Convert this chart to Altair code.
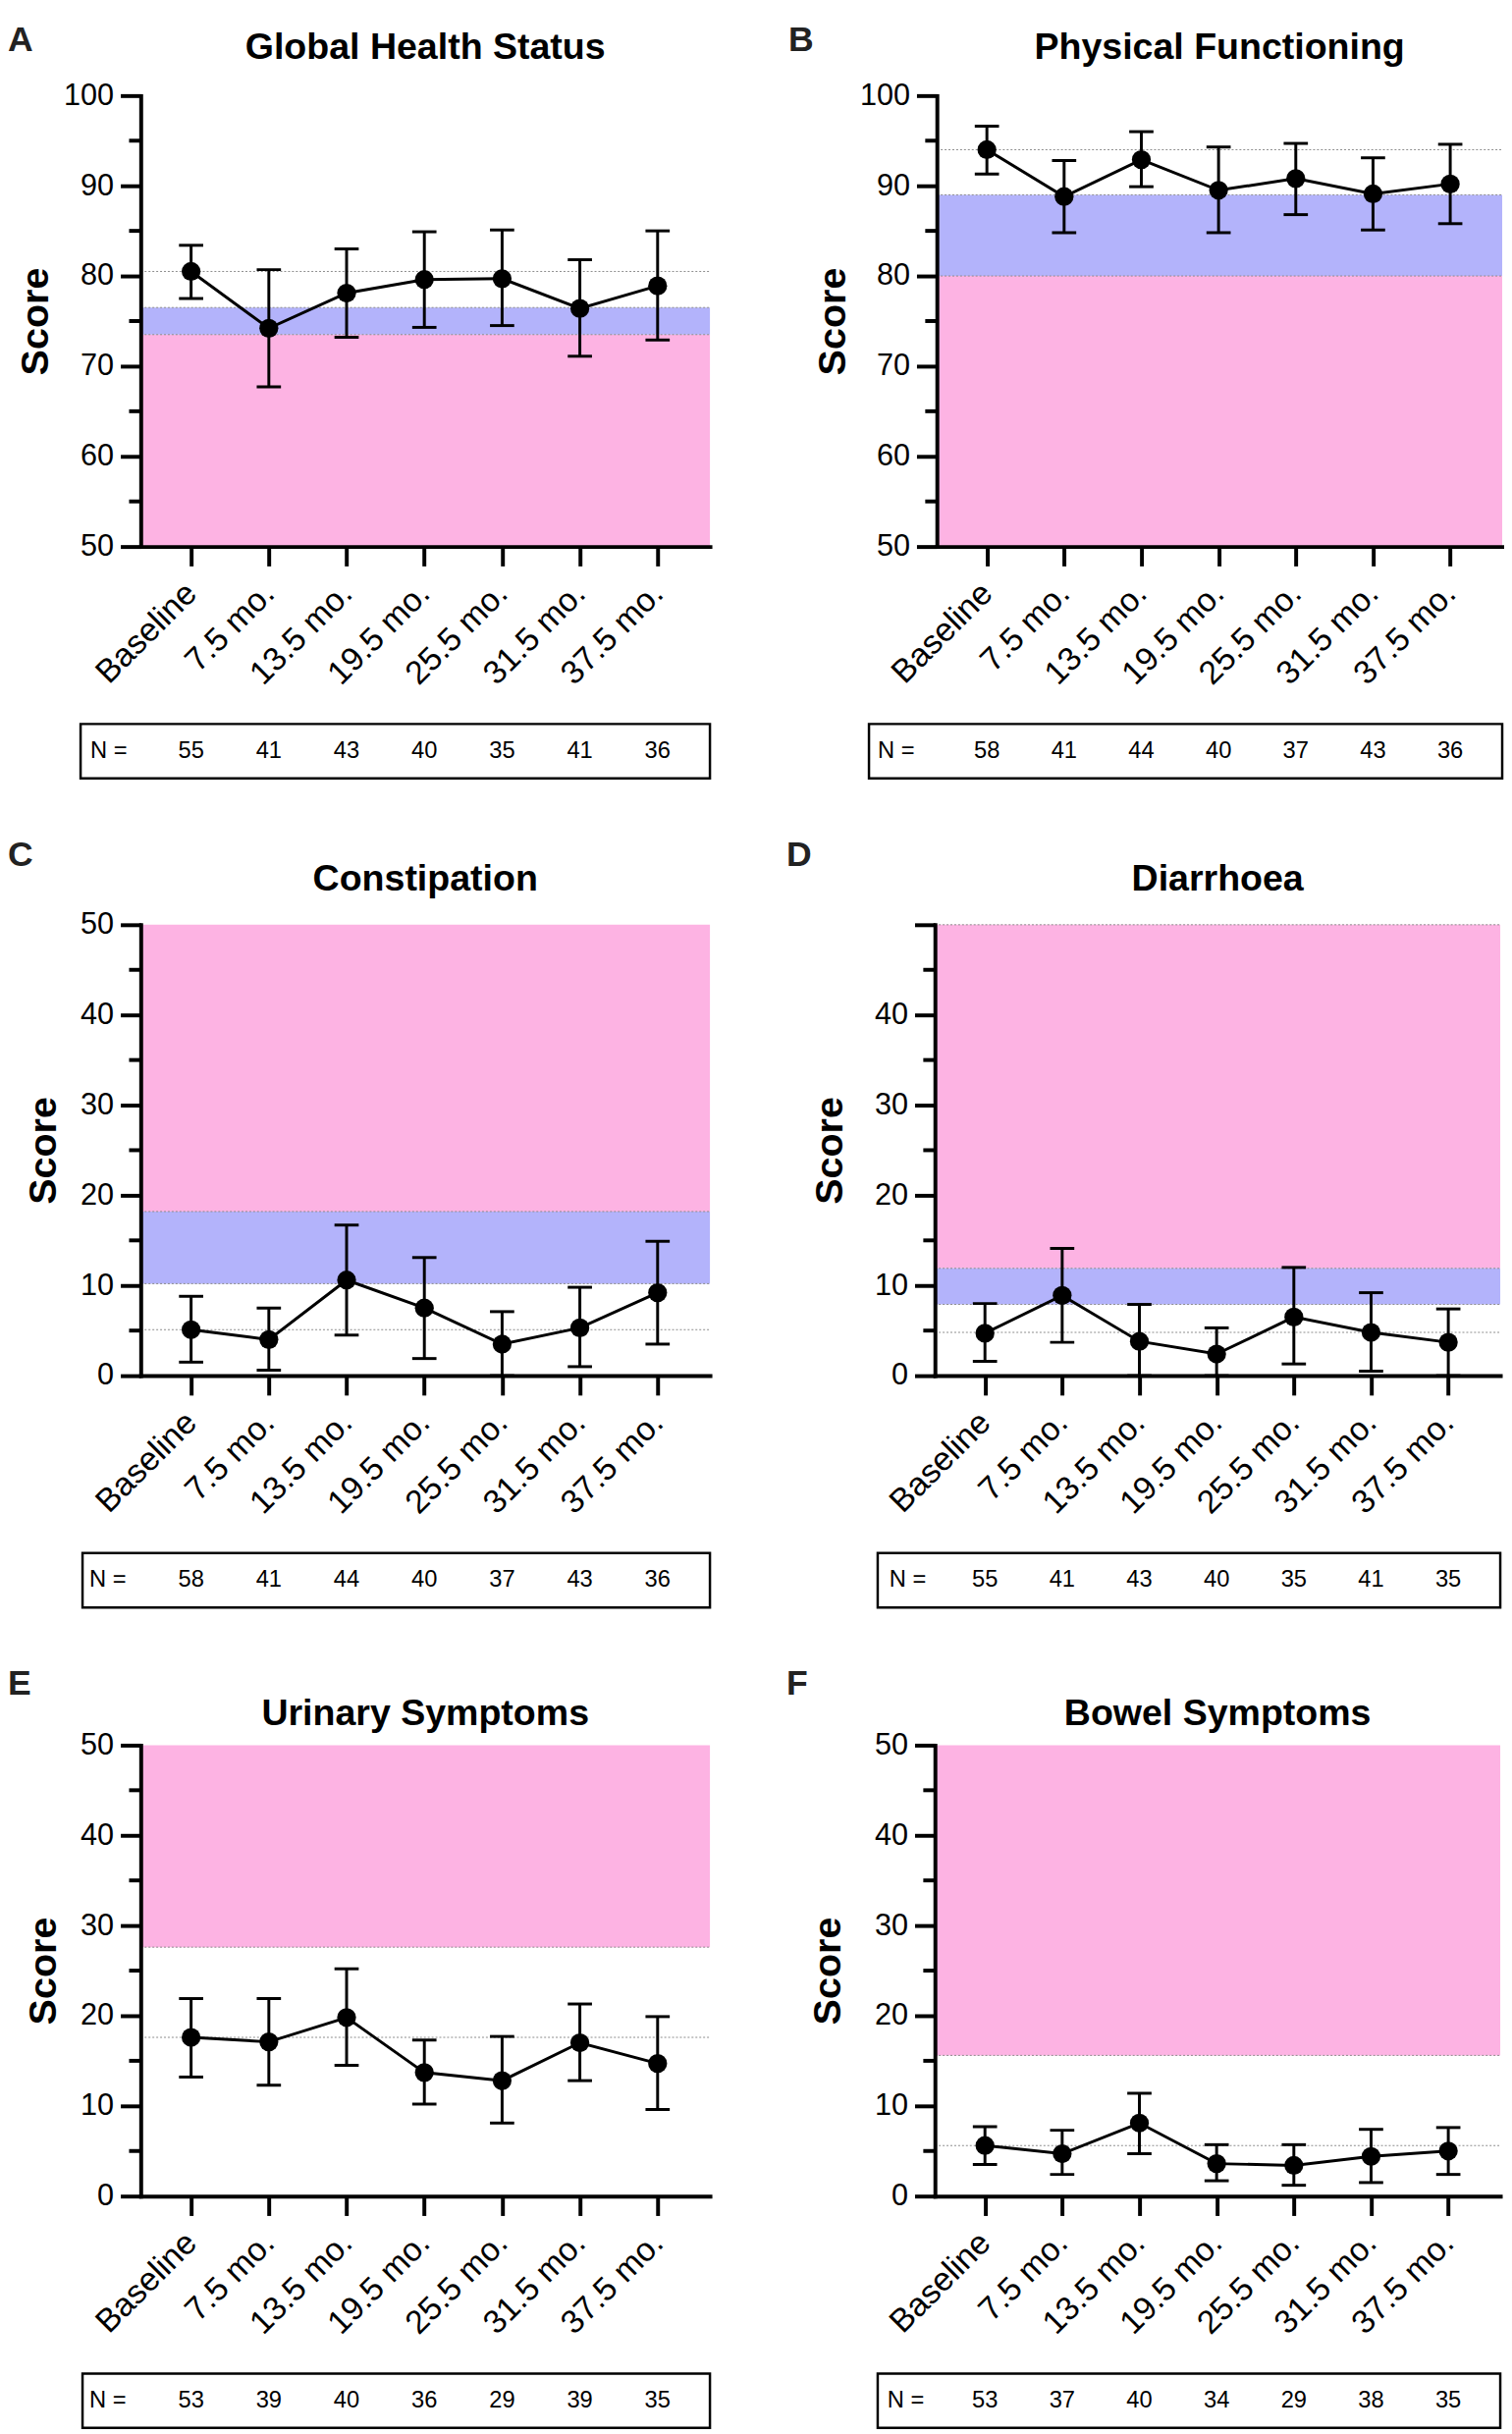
import altair as alt
import pandas as pd

FONT = "Liberation Sans"
PINK = "#FDB3E3"
BLUE = "#B3B3FB"
DOT = "#8a8a8a"

LABELS = ["Baseline", "7.5 mo.", "13.5 mo.", "19.5 mo.", "25.5 mo.", "31.5 mo.", "37.5 mo."]

# A - Global Health Status
A_mean = [80.5, 74.2, 78.1, 79.6, 79.7, 76.4, 78.9]
A_hi = [83.4, 80.7, 83.0, 84.9, 85.1, 81.8, 85.0]
A_lo = [77.5, 67.7, 73.2, 74.3, 74.5, 71.1, 72.9]
A_n = [55, 41, 43, 40, 35, 41, 36]
A_pink = [50, 73.5]
A_blue = [73.5, 76.5]
A_ref = 80.5

# B - Physical Functioning
B_mean = [94.0, 88.8, 92.9, 89.5, 90.8, 89.1, 90.2]
B_hi = [96.6, 92.8, 96.0, 94.3, 94.7, 93.1, 94.6]
B_lo = [91.3, 84.8, 89.9, 84.8, 86.8, 85.1, 85.8]
B_n = [58, 41, 44, 40, 37, 43, 36]
B_pink = [50, 80]
B_blue = [80, 89]
B_ref = 94.0

# C - Constipation
C_mean = [5.1, 4.0, 10.6, 7.5, 3.5, 5.3, 9.2]
C_hi = [8.8, 7.5, 16.7, 13.1, 7.1, 9.8, 14.9]
C_lo = [1.5, 0.6, 4.5, 1.9, 0.0, 1.0, 3.5]
C_n = [58, 41, 44, 40, 37, 43, 36]
C_pink = [18.2, 50]
C_blue = [10.2, 18.2]
C_ref = 5.1

# D - Diarrhoea
D_mean = [4.7, 8.9, 3.8, 2.4, 6.5, 4.8, 3.7]
D_hi = [8.0, 14.1, 7.9, 5.3, 12.0, 9.2, 7.4]
D_lo = [1.6, 3.7, 0.0, 0.0, 1.3, 0.5, 0.0]
D_n = [55, 41, 43, 40, 35, 41, 35]
D_pink = [11.9, 50]
D_blue = [7.9, 11.9]
D_ref = 4.8

# E - Urinary Symptoms
E_mean = [17.6, 17.1, 19.8, 13.7, 12.8, 17.0, 14.7]
E_hi = [21.9, 21.9, 25.2, 17.3, 17.7, 21.3, 19.9]
E_lo = [13.2, 12.3, 14.5, 10.2, 8.1, 12.8, 9.6]
E_n = [53, 39, 40, 36, 29, 39, 35]
E_pink = [27.6, 50]
E_ref = 17.6

# F - Bowel Symptoms
F_mean = [5.6, 4.7, 8.1, 3.6, 3.4, 4.4, 5.0]
F_hi = [7.7, 7.3, 11.4, 5.7, 5.7, 7.4, 7.6]
F_lo = [3.5, 2.4, 4.7, 1.7, 1.2, 1.5, 2.4]
F_n = [53, 37, 40, 34, 29, 38, 35]
F_pink = [15.6, 50]
F_ref = 5.6

XDOM = [-0.648, 6.673]
H = 465
LABEL_EXPR = "[" + ",".join("'%s'" % l for l in LABELS) + "][datum.value]"


def make_panel(letter, title, mean, lo, hi, n, ydom, bands, edges, width,
               letter_dx, letter_dy, title_dy, tpad, box_dx, nlab_dx, hide_top=False):
    df = pd.DataFrame({"idx": list(range(7)), "mean": mean, "lo": lo, "hi": hi, "n": n})
    one = pd.DataFrame({"k": [0]})
    xs = alt.Scale(domain=XDOM, nice=False, zero=False)
    ys = alt.Scale(domain=ydom, nice=False, zero=False)
    yvals = list(range(ydom[0], ydom[1] + 1, 10))
    minor = [v + 5 for v in yvals[:-1]]

    yaxis_kw = dict(values=yvals, tickSize=21, tickWidth=4, tickColor="black",
                    labelFontSize=31, labelPadding=7, labelColor="black", labelFont=FONT,
                    domainColor="black", domainWidth=4, domainCap="square",
                    title="Score", titleFontSize=40, titleFontWeight="bold", titleFont=FONT,
                    titleColor="black", titlePadding=tpad, grid=False, zindex=1,
                    labelFlush=False, labelOverlap=False)
    if hide_top:
        yaxis_kw["labelExpr"] = "datum.value == %d ? '' : datum.label" % ydom[1]
    yaxis = alt.Axis(**yaxis_kw)
    xaxis = alt.Axis(values=list(range(7)), labelExpr=LABEL_EXPR, labelAngle=-45,
                     labelAlign="right", labelBaseline="middle", labelFontSize=34,
                     labelPadding=23, labelColor="black", labelFont=FONT,
                     tickSize=20, tickWidth=4, tickColor="black",
                     domainColor="black", domainWidth=4, domainCap="square",
                     title=None, grid=False, zindex=1, labelFlush=False, labelOverlap=False)

    def X(f):
        return alt.X(f, scale=xs, axis=xaxis, title=None)

    def Y(f):
        return alt.Y(f, scale=ys, axis=yaxis, title="Score")

    bdf = pd.DataFrame({"lo": [b[0] for b in bands], "hi": [b[1] for b in bands],
                        "c": [b[2] for b in bands]})
    band_layer = alt.Chart(bdf).mark_rect().encode(
        y=Y("lo:Q"), y2="hi:Q",
        x=alt.value(0), x2=alt.value(width),
        color=alt.Color("c:N", scale=None))

    edf = pd.DataFrame({"v": edges})
    edge_layer = alt.Chart(edf).mark_rule(color=DOT, strokeWidth=1, strokeDash=[2, 2]).encode(
        y=Y("v:Q"), x=alt.value(0), x2=alt.value(width))

    base = alt.Chart(df)
    err = base.mark_rule(color="black", strokeWidth=3).encode(
        x=X("idx:Q"), y=Y("lo:Q"), y2="hi:Q")
    cap_lo = base.mark_tick(orient="horizontal", size=25, thickness=3, color="black", opacity=1).encode(
        x=X("idx:Q"), y=Y("lo:Q"))
    cap_hi = base.mark_tick(orient="horizontal", size=25, thickness=3, color="black", opacity=1).encode(
        x=X("idx:Q"), y=Y("hi:Q"))
    line = base.mark_line(color="black", strokeWidth=3).encode(
        x=X("idx:Q"), y=Y("mean:Q"))
    pts = base.mark_circle(size=380, color="black", opacity=1).encode(
        x=X("idx:Q"), y=Y("mean:Q"))

    mdf = pd.DataFrame({"v": minor})
    minor_layer = alt.Chart(mdf).mark_rule(color="black", strokeWidth=4).encode(
        y=Y("v:Q"), x=alt.value(-12), x2=alt.value(0))

    box = alt.Chart(one).mark_rect(fillOpacity=0, stroke="black", strokeWidth=2.5).encode(
        x=alt.value(box_dx), x2=alt.value(width), y=alt.value(648), y2=alt.value(704))
    ntext = base.mark_text(fontSize=24, font=FONT, align="center", baseline="middle", color="black").encode(
        x=X("idx:Q"), y=alt.value(676), text="n:Q")
    nlab = alt.Chart(one).mark_text(fontSize=24, font=FONT, align="left", baseline="middle", color="black").encode(
        x=alt.value(nlab_dx), y=alt.value(676), text=alt.value("N ="))
    ttl = alt.Chart(one).mark_text(fontSize=38, font=FONT, fontWeight="bold", align="center",
                                   baseline="alphabetic", color="black").encode(
        x=alt.value(width / 2), y=alt.value(title_dy), text=alt.value(title))
    let = alt.Chart(one).mark_text(fontSize=36, font=FONT, fontWeight="bold", align="left",
                                   baseline="alphabetic", color="#222222").encode(
        x=alt.value(letter_dx), y=alt.value(letter_dy), text=alt.value(letter))

    return alt.layer(band_layer, edge_layer, err, cap_lo, cap_hi, line, pts, minor_layer,
                     box, ntext, nlab, ttl, let).properties(width=width, height=H)


pA = make_panel("A", "Global Health Status", A_mean, A_lo, A_hi, A_n, [50, 100],
                [(A_pink[0], A_pink[1], PINK), (A_blue[0], A_blue[1], BLUE)],
                [A_blue[0], A_blue[1], A_ref], 587, -137, -46, -38, 8, -62, -52)
pB = make_panel("B", "Physical Functioning", B_mean, B_lo, B_hi, B_n, [50, 100],
                [(B_pink[0], B_pink[1], PINK), (B_blue[0], B_blue[1], BLUE)],
                [B_blue[0], B_blue[1], B_ref], 583, -153, -46, -38, 7, -70, -61)
pC = make_panel("C", "Constipation", C_mean, C_lo, C_hi, C_n, [0, 50],
                [(C_pink[0], C_pink[1], PINK), (C_blue[0], C_blue[1], BLUE)],
                [C_blue[0], C_blue[1], C_ref], 587, -137, -61, -35, 17, -60, -53)
pD = make_panel("D", "Diarrhoea", D_mean, D_lo, D_hi, D_n, [0, 50],
                [(D_pink[0], D_pink[1], PINK), (D_blue[0], D_blue[1], BLUE)],
                [D_blue[0], D_blue[1], D_pink[1], D_ref], 583, -153, -61, -35, 25, -59, -47,
                hide_top=True)
pE = make_panel("E", "Urinary Symptoms", E_mean, E_lo, E_hi, E_n, [0, 50],
                [(E_pink[0], E_pink[1], PINK)],
                [E_pink[0], E_ref], 587, -137, -52, -21, 17, -60, -53)
pF = make_panel("F", "Bowel Symptoms", F_mean, F_lo, F_hi, F_n, [0, 50],
                [(F_pink[0], F_pink[1], PINK)],
                [F_pink[0], F_ref], 583, -153, -52, -21, 27, -59, -49)

row1 = alt.hconcat(pA, pB, spacing=79)
row2 = alt.hconcat(pC, pD, spacing=77)
row3 = alt.hconcat(pE, pF, spacing=77)

chart = alt.vconcat(row1, row2, row3, spacing=59).properties(
    padding=0, background="white"
).configure_view(stroke=None)

chart.save("out.html", embed_options={"renderer": "svg", "actions": False})
